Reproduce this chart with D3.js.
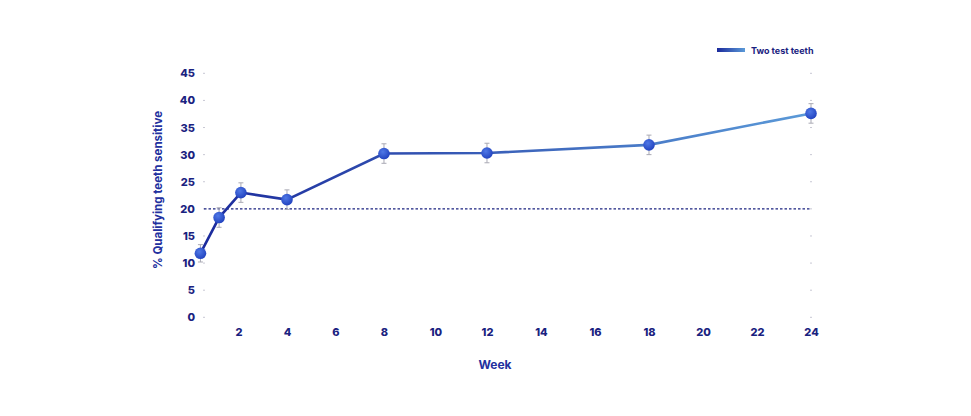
<!DOCTYPE html>
<html><head><meta charset="utf-8">
<script src="https://cdn.jsdelivr.net/npm/d3@7"></script>
<style>body{margin:0;background:#fff}svg{display:block}</style>
</head><body><svg id="c" width="971" height="416"></svg>
<script>
const weeks = [0.43, 1.2, 2.1, 4, 8, 12, 18, 24];
const values = [11.8, 18.4, 23.0, 21.7, 30.2, 30.3, 31.8, 37.6];
const errors = [1.6, 1.8, 1.8, 1.8, 1.8, 1.8, 1.8, 1.8];
const xTicks = [2, 4, 6, 8, 10, 12, 14, 16, 18, 20, 22, 24];
const yTicks = [0, 5, 10, 15, 20, 25, 30, 35, 40, 45];
const refValue = 20;
const seriesName = "Two test teeth";
const xTitle = "Week";
const yTitle = "% Qualifying teeth sensitive";

const svg = d3.select("#c");
const L = 204, R = 811, T = 73.3, B = 317.3;
const W = R - L;
const x = d3.scaleLinear().domain([0, 4, 8, 12, 24])
  .range([L - 14, L + W * 0.1367, L + W * 0.2965, L + W * 0.4662, R]);
const y = d3.scaleLinear().domain([0, 45]).range([B, T]);
const navy = "#1a2280";
const font = "Inter, 'Open Sans', sans-serif";

const defs = svg.append("defs");
const lg = defs.append("linearGradient").attr("id", "lineGrad")
  .attr("gradientUnits", "userSpaceOnUse")
  .attr("x1", x(weeks[0])).attr("x2", x(weeks[weeks.length - 1])).attr("y1", 0).attr("y2", 0);
lg.append("stop").attr("offset", "0%").attr("stop-color", "#1b2a9c");
lg.append("stop").attr("offset", "100%").attr("stop-color", "#5b9ad8");
const lg2 = defs.append("linearGradient").attr("id", "legGrad");
lg2.append("stop").attr("offset", "0%").attr("stop-color", "#1b2a9c");
lg2.append("stop").attr("offset", "100%").attr("stop-color", "#5b9ad8");
const rg = defs.append("radialGradient").attr("id", "dotGrad").attr("cx", "40%").attr("cy", "35%").attr("r", "65%");
rg.append("stop").attr("offset", "0%").attr("stop-color", "#4f78e6");
rg.append("stop").attr("offset", "100%").attr("stop-color", "#2344c0");

// y axis labels and tick dots
const yAxis = d3.axisLeft(y).tickValues(yTicks).tickSize(0).tickPadding(9);
const gy = svg.append("g").attr("transform", `translate(${L},0)`).call(yAxis);
gy.select(".domain").remove();
gy.selectAll("text").attr("fill", navy).attr("font-family", font).attr("font-weight", 800).attr("font-size", 11);
svg.append("g").selectAll("rect").data(yTicks).join("rect")
  .attr("x", L - 1).attr("y", d => y(d) - 0.5).attr("width", 2).attr("height", 1).attr("fill", "#c8c8d4");
svg.append("g").selectAll("rect").data(yTicks).join("rect")
  .attr("x", R - 1).attr("y", d => y(d) - 0.5).attr("width", 2).attr("height", 1).attr("fill", "#c8c8d4");

// x axis labels
const xAxis = d3.axisBottom(x).tickValues(xTicks).tickSize(0).tickPadding(0);
const gx = svg.append("g").attr("transform", `translate(0,${B + 11})`).call(xAxis);
gx.select(".domain").remove();
gx.selectAll("text").attr("fill", navy).attr("font-family", font).attr("font-weight", 800).attr("font-size", 11);

// axis titles
svg.append("text").attr("x", 495).attr("y", 369).attr("text-anchor", "middle")
  .attr("fill", "#22309e").attr("font-family", font).attr("font-weight", 700).attr("font-size", 12).text(xTitle);
svg.append("text").attr("transform", `translate(162,190) rotate(-90)`).attr("text-anchor", "middle")
  .attr("fill", "#22309e").attr("font-family", font).attr("font-weight", 700).attr("font-size", 11.5).text(yTitle);

// reference line
svg.append("line").attr("x1", L).attr("x2", R).attr("y1", y(refValue)).attr("y2", y(refValue))
  .attr("stroke", navy).attr("stroke-width", 1.2).attr("stroke-dasharray", "2.5,2");

// line
const pts = weeks.map((w, i) => ({ w, v: values[i], e: errors[i] }));
svg.append("path").datum(pts)
  .attr("d", d3.line().x(d => x(d.w)).y(d => y(d.v)))
  .attr("fill", "none").attr("stroke", "url(#lineGrad)").attr("stroke-width", 2.6);

// error bars
const eb = svg.append("g").attr("stroke", "#a9a9b4").attr("stroke-width", 1);
eb.selectAll("line.v").data(pts).join("line").attr("class", "v")
  .attr("x1", d => x(d.w)).attr("x2", d => x(d.w)).attr("y1", d => y(d.v - d.e)).attr("y2", d => y(d.v + d.e));
eb.selectAll("line.t").data(pts).join("line").attr("class", "t")
  .attr("x1", d => x(d.w) - 2.5).attr("x2", d => x(d.w) + 2.5).attr("y1", d => y(d.v + d.e)).attr("y2", d => y(d.v + d.e));
eb.selectAll("line.b").data(pts).join("line").attr("class", "b")
  .attr("x1", d => x(d.w) - 2.5).attr("x2", d => x(d.w) + 2.5).attr("y1", d => y(d.v - d.e)).attr("y2", d => y(d.v - d.e));

// markers
svg.append("g").selectAll("circle").data(pts).join("circle")
  .attr("cx", d => x(d.w)).attr("cy", d => y(d.v)).attr("r", 5.8).attr("fill", "url(#dotGrad)");

// legend
svg.append("rect").attr("x", 717).attr("y", 48).attr("width", 28).attr("height", 4).attr("fill", "url(#legGrad)");
svg.append("text").attr("x", 751).attr("y", 53.5).attr("fill", navy).attr("font-family", font)
  .attr("font-weight", 700).attr("font-size", 9).text(seriesName);
</script></body></html>
